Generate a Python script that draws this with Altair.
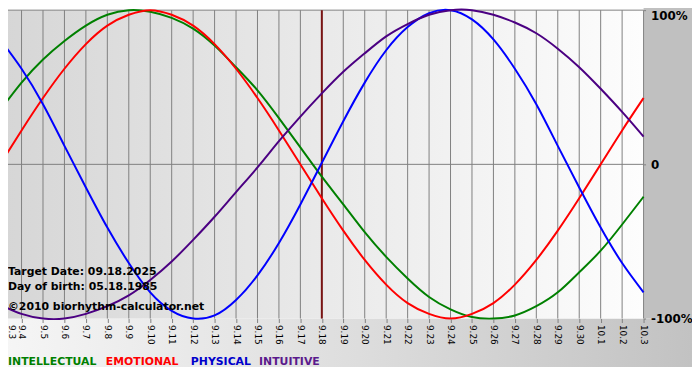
import altair as alt
import pandas as pd

# ---------------- data ----------------
dates = ["9.3", "9.4", "9.5", "9.6", "9.7", "9.8", "9.9", "9.10", "9.11", "9.12",
         "9.13", "9.14", "9.15", "9.16", "9.17", "9.18", "9.19", "9.20", "9.21", "9.22",
         "9.23", "9.24", "9.25", "9.26", "9.27", "9.28", "9.29", "9.30", "10.1", "10.2", "10.3"]

intellectual = [0.35, 0.53, 0.68, 0.80, 0.90, 0.97, 1.00, 0.99, 0.95, 0.88,
                0.77, 0.63, 0.48, 0.30, 0.11, -0.08, -0.26, -0.44, -0.60, -0.74,
                -0.86, -0.94, -0.99, -1.00, -0.98, -0.92, -0.83, -0.70, -0.56, -0.39, -0.21]
emotional = [0.00, 0.22, 0.43, 0.62, 0.78, 0.90, 0.97, 1.00, 0.97, 0.90,
             0.78, 0.62, 0.43, 0.22, 0.00, -0.22, -0.43, -0.62, -0.78, -0.90,
             -0.97, -1.00, -0.97, -0.90, -0.78, -0.62, -0.43, -0.22, 0.00, 0.22, 0.43]
physical = [0.81, 0.62, 0.39, 0.12, -0.15, -0.41, -0.64, -0.83, -0.95, -1.00,
            -0.98, -0.88, -0.72, -0.51, -0.26, 0.01, 0.28, 0.53, 0.74, 0.89,
            0.98, 1.00, 0.94, 0.81, 0.62, 0.39, 0.12, -0.15, -0.41, -0.64, -0.83]
intuitive = [-0.91, -0.97, -1.00, -1.00, -0.97, -0.92, -0.85, -0.75, -0.63, -0.49,
             -0.34, -0.18, -0.02, 0.15, 0.31, 0.46, 0.60, 0.72, 0.83, 0.91,
             0.97, 1.00, 1.00, 0.97, 0.92, 0.85, 0.75, 0.63, 0.49, 0.34, 0.18]

series_names = ["INTELLECTUAL", "EMOTIONAL", "PHYSICAL", "INTUITIVE"]
line_colors = ["#008000", "#ff0000", "#0000ff", "#4b0082"]
legend_colors = ["#008000", "#ff0000", "#0000cc", "#5a1a8c"]

target_date = "9.18"
y_ticks = [-1, 0, 1]
info_lines = ["Target Date: 09.18.2025", "Day of birth: 05.18.1985",
              "\u00a92010 biorhythm-calculator.net"]

# ---------------- tables ----------------
rows = []
for name, vals in zip(series_names, [intellectual, emotional, physical, intuitive]):
    for d, v in zip(dates, vals):
        rows.append({"date": d, "value": v, "series": name})
df = pd.DataFrame(rows)
one = pd.DataFrame({"k": [0]})

W, H = 651, 312

xenc = alt.X(
    "date:O", sort=dates,
    scale=alt.Scale(type="point", padding=0, domain=dates),
    axis=alt.Axis(orient="bottom", labelAngle=90, labelFont="DejaVu Sans", labelFontSize=9,
                  labelColor="black", tickSize=4, tickColor="#808080", domain=False,
                  grid=False, title=None, labelPadding=2, labelOverlap=False, zindex=1,
                  labelOffset={"condition": {"test": "datum.value == '%s'" % dates[0],
                                             "value": 12}, "value": 0}),
)
yenc = alt.Y(
    "value:Q",
    scale=alt.Scale(domain=[-1, 1], nice=False, zero=False),
    axis=alt.Axis(orient="right", values=y_ticks,
                  labelExpr="datum.value == 0 ? '0' : (datum.value > 0 ? '100%' : '-100%')",
                  grid=False, domain=False, tickSize=2, tickColor="#808080", labelPadding=5,
                  labelFont="DejaVu Sans", labelFontWeight="bold", labelFontSize=12,
                  labelColor="black", title=None, zindex=1,
                  labelBaseline={"condition": {"test": "datum.value == 1", "value": "top"},
                                 "value": "middle"}),
)

plot_grad = alt.Gradient(gradient="linear", x1=0, x2=1, y1=0, y2=0,
                         stops=[alt.GradientStop(color="#d6d6d6", offset=0),
                                alt.GradientStop(color="#fdfdfd", offset=1)])
band_grad = alt.Gradient(gradient="linear", x1=0, x2=1, y1=0, y2=0,
                         stops=[alt.GradientStop(color="#f6f6f6", offset=0),
                                alt.GradientStop(color="#dedede", offset=0.5),
                                alt.GradientStop(color="#cacaca", offset=0.86),
                                alt.GradientStop(color="#c2c2c2", offset=1)])

# background decorations
right_panel = alt.Chart(one).mark_rect(color="#c0c0c0").encode(
    x=alt.value("width"), x2=alt.value(700), y=alt.value(-8), y2=alt.value("height"))
band = alt.Chart(one).mark_rect(color=band_grad).encode(
    x=alt.value(0), x2=alt.value(700), y=alt.value("height"), y2=alt.value(361))
plot_bg = alt.Chart(one).mark_rect(color=plot_grad).encode(
    x=alt.value(0), x2=alt.value("width"), y=alt.value(0), y2=alt.value("height"))

vgrid = alt.Chart(pd.DataFrame({"date": dates})).mark_rule(
    color="#808080", strokeWidth=1).encode(x=xenc)
hgrid = alt.Chart(pd.DataFrame({"value": [1, 0]})).mark_rule(
    color="#808080", strokeWidth=1).encode(y=yenc)
target = alt.Chart(pd.DataFrame({"date": [target_date]})).mark_rule(
    color="#7a1414", strokeWidth=2).encode(x=xenc)

lines = alt.Chart(df).mark_line(strokeWidth=2, interpolate="natural").encode(
    x=xenc, y=yenc,
    color=alt.Color("series:N", scale=alt.Scale(domain=series_names, range=line_colors),
                    legend=None),
    order=alt.Order("series:N"),
)

layers = [right_panel, band, plot_bg, vgrid, hgrid, target, lines]

info_y = [268, 283, 303]
for txt, yy in zip(info_lines, info_y):
    layers.append(alt.Chart(one).mark_text(
        align="left", baseline="alphabetic", font="DejaVu Sans", fontWeight="bold",
        fontSize=11, color="black").encode(
        x=alt.value(8), y=alt.value(yy), text=alt.value(txt)))

legend_x = [8, 107, 193, 262]
for name, col, xx in zip(series_names, legend_colors, legend_x):
    layers.append(alt.Chart(one).mark_text(
        align="left", baseline="alphabetic", font="DejaVu Sans", fontWeight="bold",
        fontSize=11, color=col).encode(
        x=alt.value(xx), y=alt.value(359), text=alt.value(name)))

chart = alt.layer(*layers).properties(
    width=W, height=H,
    padding={"left": -8, "top": 0, "right": 49, "bottom": 60},
    autosize=alt.AutoSizeParams(type="none"),
    background="white",
).configure_view(stroke=None)

chart.save("out.html", embed_options={"renderer": "svg", "actions": False})
